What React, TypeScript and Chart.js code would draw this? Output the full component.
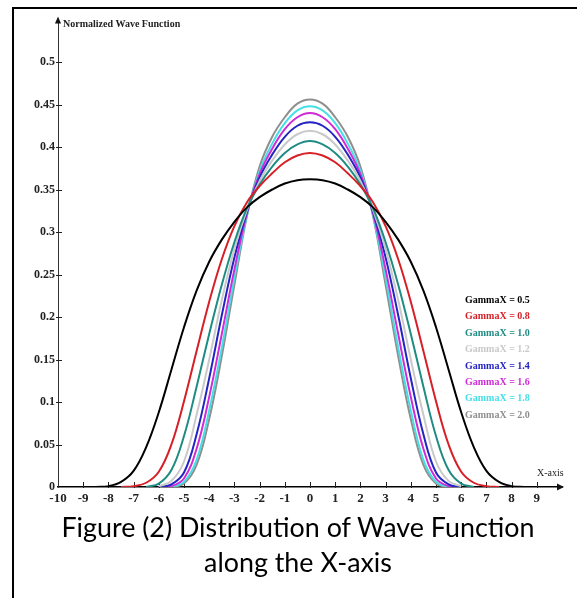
import React, { useEffect, useRef } from "react";
import { Chart, registerables } from "chart.js";

Chart.register(...registerables);

// ---------- data ----------
const xValues = [
  -8.5, -8, -7.5, -7, -6.5, -6, -5.5, -5, -4.5, -4, -3.5, -3, -2.5, -2, -1.5, -1, -0.5,
  0, 0.5, 1, 1.5, 2, 2.5, 3, 3.5, 4, 4.5, 5, 5.5, 6, 6.5, 7, 7.5, 8, 8.5,
];

const gamma05 = [0, .001, .006, .019, .047, .088, .138, .188, .231, .265, .291, .312, .329, .341, .350, .357, .361, .362, .361, .357, .350, .341, .329, .312, .291, .265, .231, .188, .138, .088, .047, .019, .006, .001, 0];
const gamma08 = [null, null, 0, .001, .005, .018, .050, .101, .160, .218, .268, .307, .335, .354, .369, .382, .390, .393, .390, .382, .369, .354, .335, .307, .268, .218, .160, .101, .050, .018, .005, .001, 0, null, null];
const gamma10 = [null, null, null, null, 0, .004, .020, .060, .118, .180, .238, .288, .328, .356, .377, .393, .403, .407, .403, .393, .377, .356, .328, .288, .238, .180, .118, .060, .020, .004, 0, null, null, null, null];
const gamma12 = [null, null, null, null, null, .001, .007, .030, .085, .150, .220, .280, .326, .360, .384, .403, .415, .419, .415, .403, .384, .360, .326, .280, .220, .150, .085, .030, .007, .001, null, null, null, null, null];
const gamma14 = [null, null, null, null, null, 0, .003, .017, .062, .128, .202, .270, .324, .364, .391, .412, .425, .429, .425, .412, .391, .364, .324, .270, .202, .128, .062, .017, .003, 0, null, null, null, null, null];
const gamma16 = [null, null, null, null, null, 0, .001, .010, .045, .106, .180, .256, .322, .368, .398, .421, .435, .440, .435, .421, .398, .368, .322, .256, .180, .106, .045, .010, .001, 0, null, null, null, null, null];
const gamma18 = [null, null, null, null, null, null, 0, .006, .032, .090, .164, .246, .320, .372, .404, .428, .443, .448, .443, .428, .404, .372, .320, .246, .164, .090, .032, .006, 0, null, null, null, null, null, null];
const gamma20 = [null, null, null, null, null, null, 0, .004, .026, .080, .154, .238, .319, .377, .412, .435, .451, .456, .451, .435, .412, .377, .319, .238, .154, .080, .026, .004, 0, null, null, null, null, null, null];

const seriesValues = [gamma05, gamma08, gamma10, gamma12, gamma14, gamma16, gamma18, gamma20];
const seriesLabels = [
  "GammaX = 0.5", "GammaX = 0.8", "GammaX = 1.0", "GammaX = 1.2",
  "GammaX = 1.4", "GammaX = 1.6", "GammaX = 1.8", "GammaX = 2.0",
];
const seriesColors = ["#000000", "#d61f26", "#1f8c84", "#c9c9c9", "#2424c4", "#cf2bd6", "#45dfe6", "#8f8f8f"];

const xTickValues = [-10, -9, -8, -7, -6, -5, -4, -3, -2, -1, 0, 1, 2, 3, 4, 5, 6, 7, 8, 9];
const xTickLabels = ["-10", "-9", "-8", "-7", "-6", "-5", "-4", "-3", "-2", "-1", "0", "1", "2", "3", "4", "5", "6", "7", "8", "9"];
const yTickValues = [0, 0.05, 0.1, 0.15, 0.2, 0.25, 0.3, 0.35, 0.4, 0.45, 0.5];
const yTickLabels = ["0", "0.05", "0.1", "0.15", "0.2", "0.25", "0.3", "0.35", "0.4", "0.45", "0.5"];

const yAxisTitle = "Normalized Wave Function";
const xAxisTitle = "X-axis";
const captionLines = ["Figure (2) Distribution of Wave Function", "along the X-axis"];

// ---------- style ----------
const SERIF = '"Liberation Serif", "Times New Roman", serif';
const CAP_SIZE = 26;

const decorPlugin = {
  id: "decor",
  beforeDatasetsDraw(chart: any) {
    const { ctx, chartArea, scales } = chart;
    const xs = scales.x;
    const ys = scales.y;
    ctx.save();
    ctx.strokeStyle = "#222";
    ctx.lineWidth = 1;
    xTickValues.forEach((v) => {
      if (v === -10) return;
      const px = Math.round(xs.getPixelForValue(v)) + 0.5;
      ctx.beginPath();
      ctx.moveTo(px, chartArea.bottom - 5);
      ctx.lineTo(px, chartArea.bottom + 1);
      ctx.stroke();
    });
    yTickValues.forEach((v) => {
      if (v === 0) return;
      const py = Math.round(ys.getPixelForValue(v)) + 0.5;
      ctx.beginPath();
      ctx.moveTo(chartArea.left - 2, py);
      ctx.lineTo(chartArea.left + 4, py);
      ctx.stroke();
    });
    ctx.restore();
  },
  afterDraw(chart: any) {
    const { ctx, chartArea } = chart;
    ctx.save();
    // y-axis arrow
    ctx.fillStyle = "#111";
    ctx.beginPath();
    ctx.moveTo(chartArea.left, chartArea.top - 3);
    ctx.lineTo(chartArea.left - 3, chartArea.top + 4);
    ctx.lineTo(chartArea.left + 3, chartArea.top + 4);
    ctx.closePath();
    ctx.fill();
    // x-axis arrow
    ctx.beginPath();
    ctx.moveTo(chartArea.right + 2, chartArea.bottom);
    ctx.lineTo(chartArea.right - 5, chartArea.bottom - 3.5);
    ctx.lineTo(chartArea.right - 5, chartArea.bottom + 3.5);
    ctx.closePath();
    ctx.fill();
    // axis titles
    ctx.fillStyle = "#222";
    ctx.textBaseline = "middle";
    ctx.textAlign = "left";
    ctx.font = `bold 10px ${SERIF}`;
    ctx.fillText(yAxisTitle, chartArea.left + 5, chartArea.top + 5);
    ctx.font = `10px ${SERIF}`;
    ctx.fillText(xAxisTitle, chartArea.right - 25, chartArea.bottom - 14);
    // legend
    ctx.font = `bold 10px ${SERIF}`;
    chart.data.datasets.forEach((ds: any, i: number) => {
      ctx.fillStyle = ds.borderColor;
      ctx.fillText(ds.label, chartArea.left + 407, chartArea.top + 281 + i * 16.4);
    });
    ctx.restore();
  },
};

export default function App() {
  const canvasRef = useRef<HTMLCanvasElement>(null);
  const cap1 = useRef<HTMLDivElement>(null);
  const cap2 = useRef<HTMLDivElement>(null);

  useEffect(() => {
    const canvas = canvasRef.current!;
    const datasets = seriesValues.map((vals, i) => ({
      label: seriesLabels[i],
      data: xValues.map((x, j) => ({ x, y: vals[j] })),
      borderColor: seriesColors[i],
      backgroundColor: seriesColors[i],
      borderWidth: 2,
      pointRadius: 0,
      tension: 0.4,
      fill: false,
      spanGaps: false,
    }));
    const chart = new Chart(canvas, {
      type: "line",
      data: { datasets: datasets as any },
      options: {
        responsive: false,
        animation: false,
        devicePixelRatio: 1,
        layout: { padding: { top: 19.5, right: 15, bottom: 0, left: 0 } },
        plugins: {
          legend: { display: false },
          tooltip: { enabled: false },
        },
        scales: {
          x: {
            type: "linear",
            min: -10,
            max: 10,
            afterBuildTicks: (s: any) => {
              s.ticks = xTickValues.map((v) => ({ value: v }));
            },
            afterFit: (s: any) => {
              s.height = 111;
            },
            grid: { display: false, drawTicks: false },
            border: { display: true, color: "#000", width: 1.5 },
            ticks: {
              autoSkip: false,
              maxRotation: 0,
              padding: 4,
              color: "#222",
              font: { family: SERIF, size: 13, weight: "bold" },
              callback: (_v: any, i: number) => xTickLabels[i],
            },
          },
          y: {
            type: "linear",
            min: 0,
            max: 0.55,
            afterBuildTicks: (s: any) => {
              s.ticks = yTickValues.map((v) => ({ value: v }));
            },
            afterFit: (s: any) => {
              s.width = 58;
            },
            grid: { display: false, drawTicks: false },
            border: { display: true, color: "#333", width: 1 },
            ticks: {
              autoSkip: false,
              padding: 3,
              color: "#222",
              font: { family: SERIF, size: 12, weight: "bold" },
              callback: (_v: any, i: number) => yTickLabels[i],
            },
          },
        },
      },
      plugins: [decorPlugin],
    });

    const m = document.createElement("canvas").getContext("2d")!;
    m.font = `${CAP_SIZE}px Lato`;
    const w = m.measureText(captionLines[0]).width;
    const r = 474 / w;
    [cap1, cap2].forEach((ref) => {
      if (ref.current) ref.current.style.transform = `scaleX(${r})`;
    });

    return () => chart.destroy();
  }, []);

  const capStyle: React.CSSProperties = {
    position: "absolute",
    left: 0,
    width: 596,
    textAlign: "center",
    fontFamily: "Lato, sans-serif",
    fontSize: CAP_SIZE,
    lineHeight: `${CAP_SIZE}px`,
    color: "#000",
    whiteSpace: "nowrap",
    transformOrigin: "298px 50%",
  };

  return (
    <div
      style={{
        position: "fixed",
        left: 0,
        top: 0,
        width: 577,
        height: 598,
        overflow: "hidden",
        background: "#fff",
      }}
    >
      <canvas ref={canvasRef} width={577} height={598} style={{ position: "absolute", left: 0, top: 0 }} />
      <div
        style={{
          position: "absolute",
          left: 12,
          top: 7,
          width: 700,
          height: 700,
          borderLeft: "2px solid #000",
          borderTop: "2px solid #000",
          pointerEvents: "none",
        }}
      />
      <div ref={cap1} style={{ ...capStyle, top: 514 }}>{captionLines[0]}</div>
      <div ref={cap2} style={{ ...capStyle, top: 549 }}>{captionLines[1]}</div>
    </div>
  );
}
